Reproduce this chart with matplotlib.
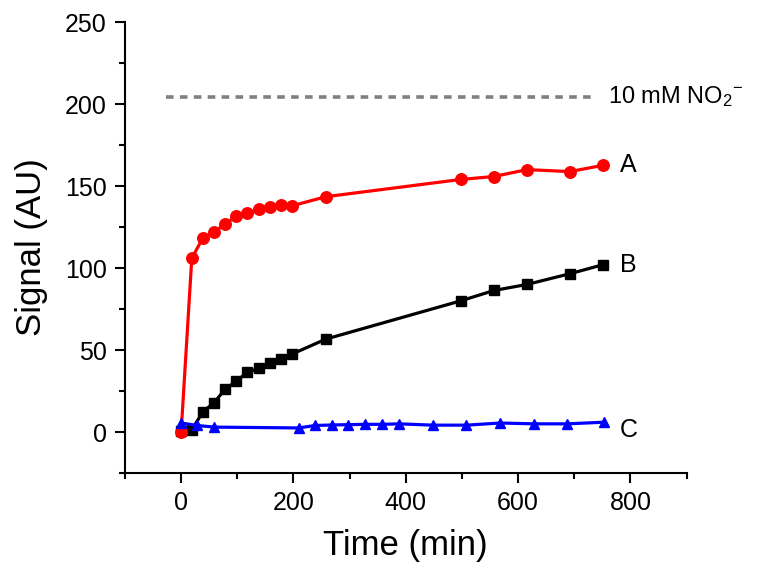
import matplotlib
matplotlib.use("Agg")
import matplotlib.pyplot as plt
from matplotlib.ticker import MultipleLocator

plt.rcParams['font.family'] = ['Liberation Sans', 'DejaVu Sans']
plt.rcParams['mathtext.fontset'] = 'custom'
plt.rcParams['mathtext.rm'] = 'Liberation Sans'
plt.rcParams['mathtext.it'] = 'Liberation Sans'

time_a = [0, 19, 39, 59, 78, 98, 118, 138, 158, 178, 198, 258, 498, 557, 616, 692, 751]
sig_a = [0, 106, 118.5, 122, 126.8, 131.5, 133.3, 136, 137.4, 138.4, 138, 143.5, 154, 155.8, 160, 158.8, 162.6]

time_b = [0, 19, 39, 59, 78, 98, 118, 138, 158, 178, 198, 258, 498, 557, 616, 692, 751]
sig_b = [0.5, 1.5, 12.4, 18, 26, 31, 36.4, 38.8, 42, 44.7, 47.6, 56.7, 80, 86.3, 90, 96.5, 102]

time_c = [0, 29, 59, 209, 239, 268, 298, 328, 358, 388, 448, 508, 568, 628, 688, 753]
sig_c = [5.5, 4, 3, 2.5, 4, 4.3, 4.5, 4.7, 4.7, 5, 4.2, 4.2, 5.5, 5, 5, 6]

ref_x = [-27, 738]
ref_y = [204.5, 204.5]
ref_label = "10 mM NO$_{2}{}^{-}$"
series_labels = ["A", "B", "C"]

fig = plt.figure(figsize=(7.63, 5.79), dpi=100)
ax = fig.add_axes([0.1638, 0.183, 0.736, 0.779])

ax.plot(ref_x, ref_y, color='#808080', lw=2.6, ls=(0, (2.1, 1.75)))
ax.plot(time_b, sig_b, color='black', lw=2.3, marker='s', ms=6.8, zorder=3)
ax.plot(time_a, sig_a, color='#ff0000', lw=2.3, marker='o', ms=8.3, zorder=4)
ax.plot(time_c, sig_c, color='#0000ff', lw=2.3, marker='^', ms=7.8, zorder=5)

ax.text(761, 204.5, ref_label, fontsize=17, va='center', ha='left')
ax.text(781, sig_a[-1], series_labels[0], fontsize=18, va='center', ha='left')
ax.text(781, sig_b[-1], series_labels[1], fontsize=18, va='center', ha='left')
ax.text(781, sig_c[-1] - 5, series_labels[2], fontsize=18, va='center', ha='left')

ax.set_xlim(-100, 900)
ax.set_ylim(-25, 250)
ax.xaxis.set_major_locator(MultipleLocator(200))
ax.xaxis.set_minor_locator(MultipleLocator(100))
ax.yaxis.set_major_locator(MultipleLocator(50))
ax.yaxis.set_minor_locator(MultipleLocator(25))
ax.set_xticks([0, 200, 400, 600, 800])

for s in ['top', 'right']:
    ax.spines[s].set_visible(False)
for s in ['left', 'bottom']:
    ax.spines[s].set_linewidth(1.5)

ax.tick_params(which='major', direction='out', length=7, width=1.5, labelsize=18, pad=6)
ax.tick_params(which='minor', direction='out', length=4, width=1.5)

ax.set_xlabel("Time (min)", fontsize=25, labelpad=10)
ax.set_ylabel("Signal (AU)", fontsize=25, labelpad=12)

fig.savefig("out.png", dpi=100)
